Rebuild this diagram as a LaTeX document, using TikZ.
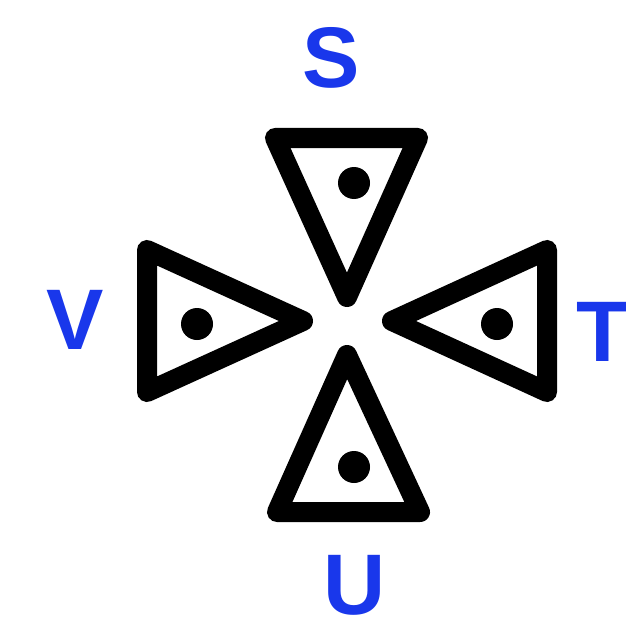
\documentclass[tikz,border=0pt]{standalone}
\usepackage{fontspec}
\setmainfont{Liberation Sans}
\definecolor{lblue}{RGB}{25,55,235}
\begin{document}
\begin{tikzpicture}[x=1pt,y=-1pt,
  tri/.style={draw=black, line width=20pt, line join=round},
  dotc/.style={fill=black},
  lbl/.style={text=lblue, font=\fontsize{86}{86}\selectfont\bfseries, inner sep=0pt}]
\useasboundingbox (0,0) rectangle (626,623);
% top triangle
\draw[tri] (275,138) -- (418,138) -- (347,297) -- cycle;
\fill[dotc] (354,183) circle (16);
% left triangle
\draw[tri] (147,250) -- (303,321) -- (147,392) -- cycle;
\fill[dotc] (197,324) circle (16);
% right triangle
\draw[tri] (547,250) -- (392,321) -- (547,392) -- cycle;
\fill[dotc] (497,324) circle (16);
% bottom triangle
\draw[tri] (347,355) -- (420,512) -- (277,512) -- cycle;
\fill[dotc] (354,467) circle (16);
% labels
\node[lbl] (S) at (331,58) {S};
\node[lbl] (T) at (603,332) {T};
\node[lbl] (U) at (355,585) {U};
\node[lbl] (V) at (75,320) {V};
\end{tikzpicture}
\end{document}
